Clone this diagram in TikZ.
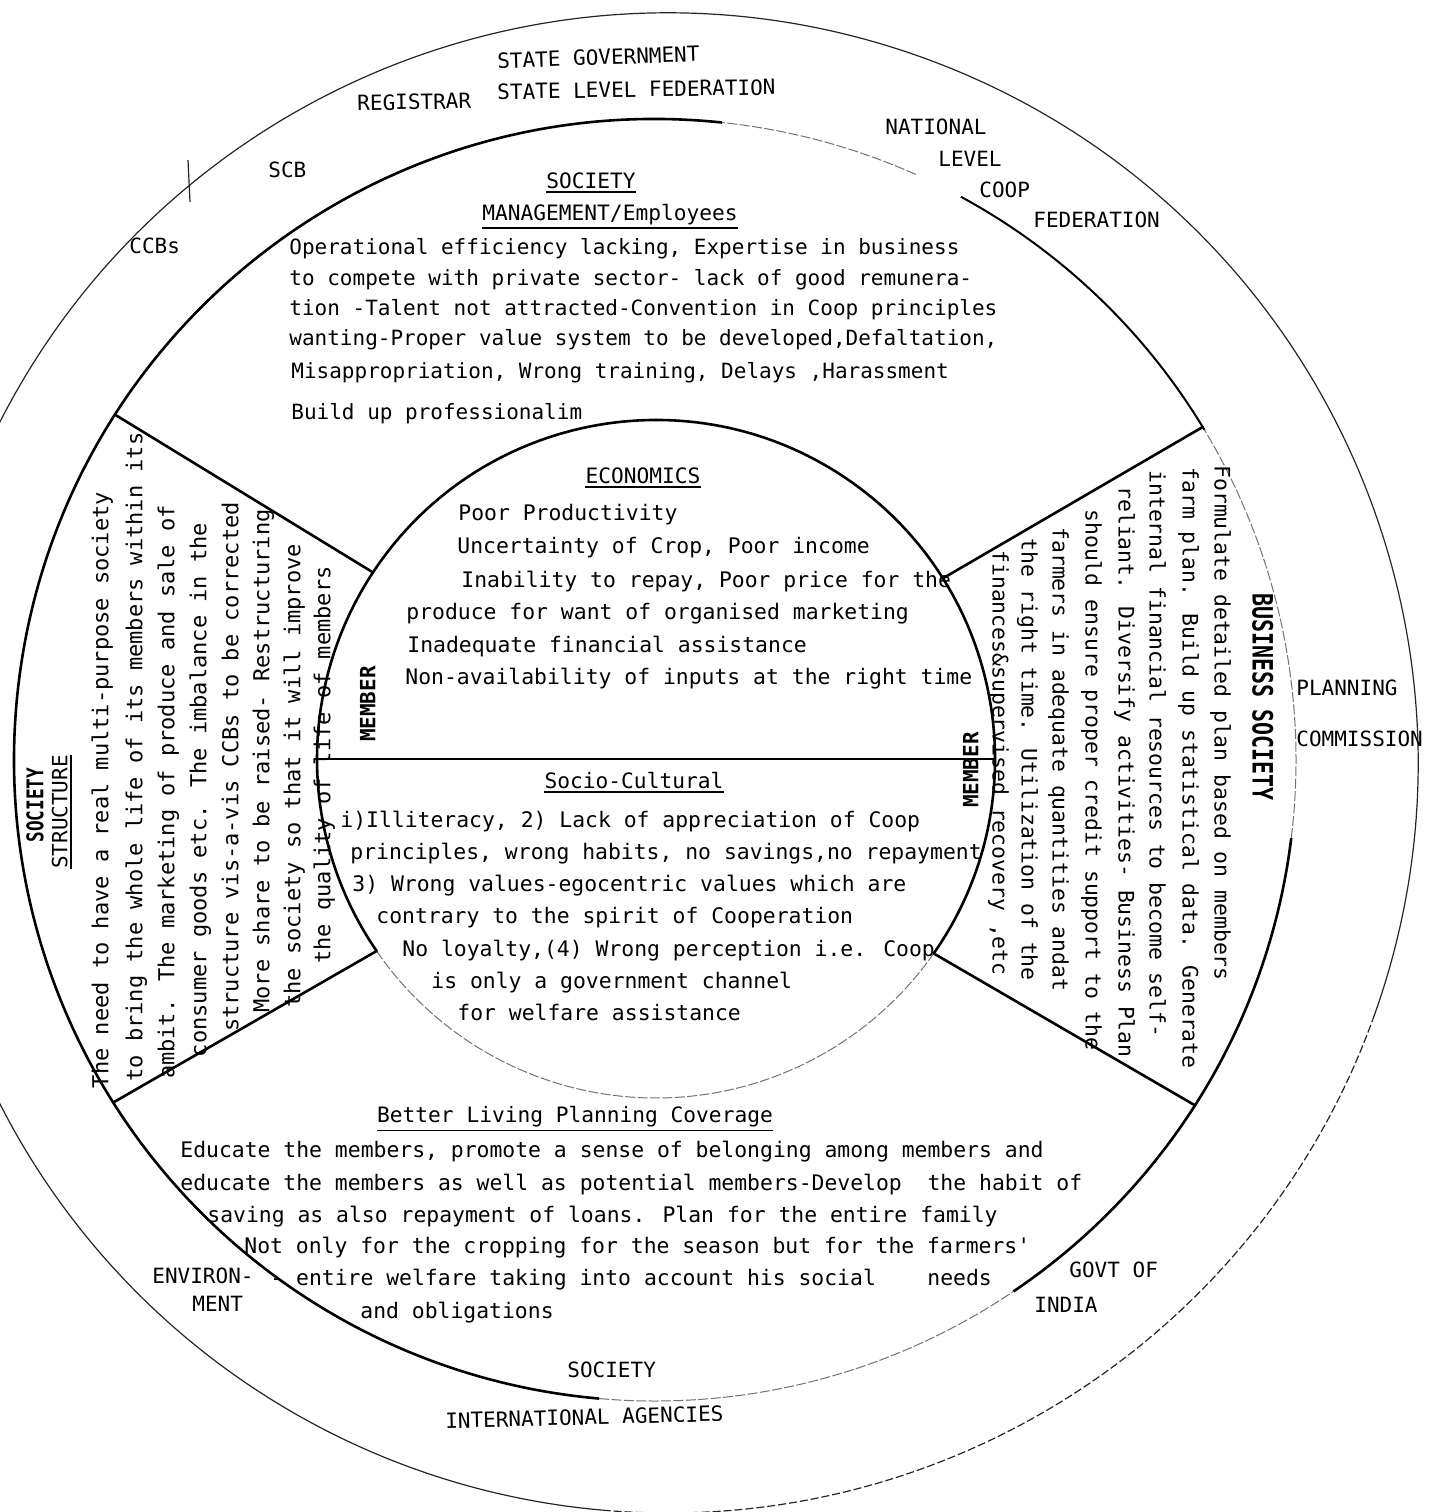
\documentclass[tikz,border=0pt]{standalone}
\usepackage{fontspec}
\setmainfont{DejaVu Sans Mono}
\newfontfamily\narrowbold[FakeStretch=0.77]{DejaVu Sans Mono}
\usetikzlibrary{calc}
\begin{document}
\begin{tikzpicture}[x=0.5pt, y=0.5pt,
  lbl/.style={inner sep=0pt, anchor=mid west, font=\fontsize{10.5}{12}\selectfont},
  body/.style={inner sep=0pt, anchor=mid west, font=\fontsize{10.7}{12}\selectfont},
  topbody/.style={body, font=\fontsize{10.5}{12}\selectfont},
  head/.style={inner sep=0pt, anchor=mid, font=\fontsize{10.6}{12}\selectfont},
  leftbody/.style={inner sep=0pt, anchor=mid, rotate=90, font=\fontsize{11}{12}\selectfont},
  rightbody/.style={inner sep=0pt, anchor=mid west, rotate=-90, font=\fontsize{10.7}{12}\selectfont},
  member/.style={inner sep=0pt, anchor=mid, rotate=90, font=\fontsize{10.5}{12}\selectfont\bfseries},
  uline/.style={line width=0.8pt},
  ring/.style={line width=1.3pt},
  faint/.style={draw=black!55, line width=0.5pt, dash pattern=on 5pt off 1.2pt},
  outerline/.style={line width=0.6pt, draw=black!85},
  spoke/.style={line width=1.3pt, line cap=round},
]
\useasboundingbox (0,0) rectangle (1440,-1512);
\fill[white] (0,0) rectangle (1440,-1512);
\clip (0,0) rectangle (1440,-1512);

% centres of the three rings
\coordinate (co) at (668,-763);
\coordinate (cm) at (655,-760);
\coordinate (ci) at (656,-759);

% outer ring (environment)
\draw[outerline] ($(co)+(-20:375pt)$) arc[start angle=-20, end angle=265, radius=375pt];
\draw[outerline, dash pattern=on 4pt off 1.5pt] ($(co)+(265:375pt)$) arc[start angle=265, end angle=340, radius=375pt];
\draw[outerline] (188,-160) -- (190,-202);

% middle ring (society)
\draw[ring] ($(cm)+(84:320.5pt)$) arc[start angle=84, end angle=265, radius=320.5pt];
\draw[faint] ($(cm)+(265:320.5pt)$) arc[start angle=265, end angle=304, radius=320.5pt];
\draw[ring] ($(cm)+(304:320.5pt)$) arc[start angle=304, end angle=353, radius=320.5pt];
\draw[faint] ($(cm)+(353:320.5pt)$) arc[start angle=353, end angle=391, radius=320.5pt];
\draw[ring, line width=1pt] ($(cm)+(31:320.5pt)$) arc[start angle=31, end angle=61.5, radius=320.5pt];
\draw[faint] ($(cm)+(66:320.5pt)$) arc[start angle=66, end angle=84, radius=320.5pt];

% inner ring (member)
\draw[ring] ($(ci)+(-35:169.5pt)$) arc[start angle=-35, end angle=214.5, radius=169.5pt];
\draw[faint] ($(ci)+(214.5:169.5pt)$) arc[start angle=214.5, end angle=325, radius=169.5pt];

% spoke end points
\coordinate (ulin)  at ($(ci)+(146.6:169.5pt)$);
\coordinate (ulout) at ($(cm)+(147.4:320.5pt)$);
\coordinate (urin)  at ($(ci)+(32.2:169.5pt)$);
\coordinate (urout) at ($(cm)+(31.3:320.5pt)$);
\coordinate (lrin)  at ($(ci)+(-35:169.5pt)$);
\coordinate (lrout) at ($(cm)+(-32.6:320.5pt)$);
\coordinate (llin)  at ($(ci)+(214.5:169.5pt)$);
\coordinate (llout) at ($(cm)+(212.3:320.5pt)$);
\coordinate (hl) at ($(ci)+(180:169.5pt)$);
\coordinate (hr) at ($(ci)+(0:169.5pt)$);

\draw[spoke] (ulin) -- (ulout);
\draw[spoke] (urin) -- (urout);
\draw[spoke] (lrin) -- (lrout);
\draw[spoke] (llin) -- (llout);
\draw[line width=1pt] (hl) -- (hr);

% outer ring labels
\node[lbl, rotate=2] (stategov) at (497,-63) {STATE GOVERNMENT};
\node[lbl, rotate=1] (registrar) at (357,-105) {REGISTRAR};
\node[lbl, rotate=1] (statefed) at (497,-94) {STATE LEVEL FEDERATION};
\node[lbl] (natl) at (885,-129) {NATIONAL};
\node[lbl] (natlevel) at (938,-161) {LEVEL};
\node[lbl] (natcoop) at (979,-192) {COOP};
\node[lbl] (natfed) at (1033,-222) {FEDERATION};
\node[lbl] (scb) at (268,-172) {SCB};
\node[lbl] (ccbs) at (129,-248) {CCBs};
\node[lbl] (plan1) at (1296,-690) {PLANNING};
\node[lbl] (plan2) at (1296,-741) {COMMISSION};
\node[lbl] (goi1) at (1069,-1272) {GOVT OF};
\node[lbl] (goi2) at (1034,-1307) {INDIA};
\node[lbl] (socbot) at (567,-1372) {SOCIETY};
\node[lbl, rotate=1.5] (intl) at (445,-1423) {INTERNATIONAL AGENCIES};
\node[lbl] (env1) at (152,-1278) {ENVIRON-};
\node[lbl] (env2) at (192,-1306) {MENT};

% top segment: management / employees
\node[head] (mhead) at (591,-183) {SOCIETY};
\draw[uline] ([yshift=-1.5pt]mhead.south west) -- ([yshift=-1.5pt]mhead.south east);
\node[head] (msub) at (610,-215) {MANAGEMENT/Employees};
\draw[uline] ([yshift=-1.5pt]msub.south west) -- ([yshift=-1.5pt]msub.south east);
\node[topbody] (m1) at (289,-249) {Operational efficiency lacking, Expertise in business};
\node[topbody] (m2) at (289,-280) {to compete with private sector- lack of good remunera-};
\node[topbody] (m3) at (289,-310) {tion -Talent not attracted-Convention in Coop principles};
\node[topbody] (m4) at (289,-340) {wanting-Proper value system to be developed,Defaltation,};
\node[topbody] (m5) at (291,-373) {Misappropriation, Wrong training, Delays ,Harassment};
\node[topbody] (m6) at (291,-414) {Build up professionalim};

% inner circle, upper half: economics
\node[head] (econ) at (643,-478) {ECONOMICS};
\draw[uline] ([yshift=-1.5pt]econ.south west) -- ([yshift=-1.5pt]econ.south east);
\node[body] (e1) at (458,-515) {Poor Productivity};
\node[body] (e2) at (457,-548) {Uncertainty of Crop, Poor income};
\node[body] (e3) at (461,-582) {Inability to repay, Poor price for the};
\node[body] (e4) at (406,-614) {produce for want of organised marketing};
\node[body] (e5) at (407,-647) {Inadequate financial assistance};
\node[body] (e6) at (405,-679) {Non-availability of inputs at the right time};

% inner circle, lower half: socio-cultural
\node[head] (socio) at (634,-783) {Socio-Cultural};
\draw[uline] ([yshift=-1.5pt]socio.south west) -- ([yshift=-1.5pt]socio.south east);
\node[body] (s1) at (340,-822) {i)Illiteracy, 2) Lack of appreciation of Coop};
\node[body] (s2) at (350,-854) {principles, wrong habits, no savings,no repayment};
\node[body] (s3) at (352,-886) {3) Wrong values-egocentric values which are};
\node[body] (s4) at (376,-918) {contrary to the spirit of Cooperation};
\node[body] (s5) at (402,-951) {No loyalty,(4) Wrong perception i.e. Coop};
\node[body] (s6) at (431,-983) {is only a government channel};
\node[body] (s7) at (457,-1015) {for welfare assistance};

% member labels on the inner circle
\node[member] (meml) at (370,-704) {MEMBER};
\node[member] (memr) at (973,-770) {MEMBER};

% bottom segment: better living
\node[head] (blp) at (575,-1117) {Better Living Planning Coverage};
\draw[uline] ([yshift=-1.5pt]blp.south west) -- ([yshift=-1.5pt]blp.south east);
\node[body] (b1) at (180,-1152) {Educate the members, promote a sense of belonging among members and};
\node[body] (b2) at (180,-1185) {educate the members as well as potential members-Develop\ \ the habit of};
\node[body] (b3) at (207,-1217) {saving as also repayment of loans. Plan for the entire family};
\node[body] (b4) at (244,-1248) {Not only for the cropping for the season but for the farmers\textquotesingle};
\node[body] (b5) at (270,-1280) {- entire welfare taking into account his social\ \ \ \ needs};
\node[body] (b6) at (360,-1313) {and obligations};

% left segment: society structure
\node[inner sep=0pt, anchor=mid, rotate=90, font=\narrowbold\fontsize{11.5}{12}\selectfont\bfseries] (sochead) at (38,-805) {SOCIETY};
\node[inner sep=0pt, anchor=mid, rotate=90, font=\fontsize{10.5}{12}\selectfont] (struct) at (62,-812) {STRUCTURE};
\draw[uline] ([xshift=1.5pt]struct.south west) -- ([xshift=1.5pt]struct.south east);
\node[leftbody] (l1) at (103,-790) {The need to have a real multi-purpose society};
\node[leftbody] (l2) at (137,-757) {to bring the whole life of its members within its};
\node[leftbody] (l3) at (169,-792) {ambit. The marketing of produce and sale of};
\node[leftbody] (l4) at (201,-790) {consumer goods etc. The imbalance in the};
\node[leftbody] (l5) at (233,-767) {structure vis-a-vis CCBs to be corrected};
\node[leftbody] (l6) at (264,-761) {More share to be raised- Restructuring};
\node[leftbody] (l7) at (295,-776) {the society so that it will improve};
\node[leftbody] (l8) at (325,-765) {the quality of life of members};

% right segment: business society
\node[inner sep=0pt, anchor=mid, rotate=-90, font=\narrowbold\fontsize{14}{14}\selectfont\bfseries] (bushead) at (1258,-697) {BUSINESS SOCIETY};
\node[rightbody] (r1) at (1220,-465) {Formulate detailed plan based on members};
\node[rightbody] (r2) at (1188,-467) {farm plan. Build up statistical data. Generate};
\node[rightbody] (r3) at (1155,-470) {internal financial resources to become self-};
\node[rightbody] (r4) at (1124,-486) {reliant. Diversify activities- Business Plan};
\node[rightbody] (r5) at (1091,-509) {should ensure proper credit support to the};
\node[rightbody] (r6) at (1058,-527) {farmers in adequate quantities andat};
\node[rightbody] (r7) at (1027,-538) {the right time. Utilization of the};
\node[rightbody] (r8) at (998,-550) {finances\&supervised recovery ,etc};
\end{tikzpicture}
\end{document}
